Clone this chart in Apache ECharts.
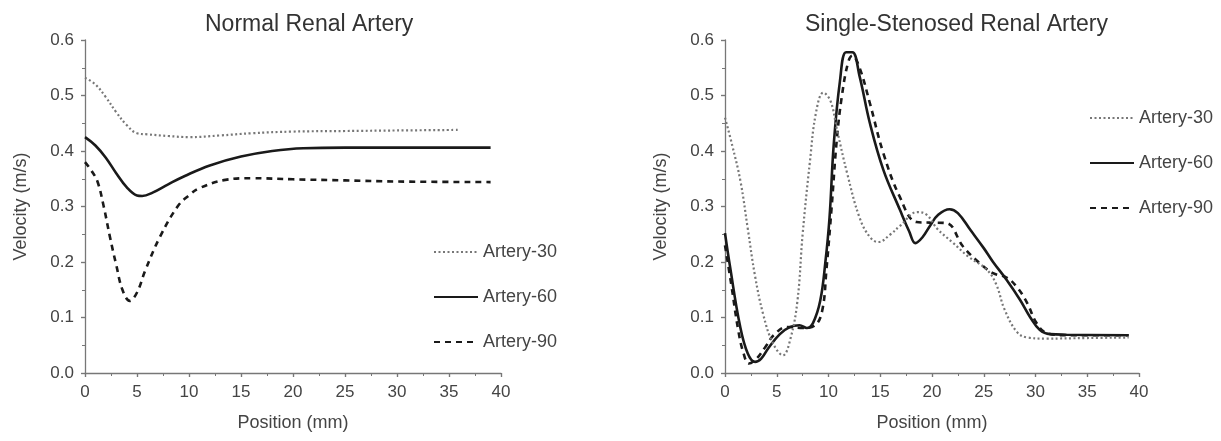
<!DOCTYPE html>
<html><head><meta charset="utf-8">
<script src="https://cdn.jsdelivr.net/npm/echarts@6/dist/echarts.min.js"></script>
<style>html,body{margin:0;padding:0;background:#fff}#c{width:1221px;height:441px}</style>
</head><body><div id="c"></div>
<script>
// ---- Data (position mm, velocity m/s) ----
const normal30 = [[0,0.532],[1,0.52],[2,0.497],[3,0.47],[4,0.447],[5,0.432],[6,0.43],[8,0.427],[10,0.425],[13,0.428],[16,0.432],[20,0.435],[25,0.436],[30,0.437],[36,0.438]];
const normal60 = [[0,0.425],[1,0.41],[2,0.388],[3,0.36],[4,0.335],[5,0.32],[5.5,0.319],[6.5,0.325],[8,0.34],[9.6,0.355],[12,0.374],[15,0.39],[18,0.4],[21,0.405],[25,0.406],[30,0.406],[39,0.406]];
const normal90 = [[0,0.38],[0.6,0.365],[1.2,0.345],[1.8,0.3],[2.4,0.245],[3,0.195],[3.6,0.15],[4.3,0.13],[5,0.145],[5.8,0.185],[7.2,0.245],[8.9,0.3],[10,0.32],[11,0.333],[13.5,0.348],[16,0.351],[20,0.349],[25,0.347],[30,0.345],[39,0.344]];
const sten30 = [[0,0.46],[0.7,0.41],[1.5,0.345],[2.2,0.26],[2.9,0.175],[3.7,0.105],[4.6,0.055],[5.6,0.032],[6.3,0.06],[7,0.13],[7.5,0.25],[8.2,0.38],[8.8,0.47],[9.5,0.505],[10.2,0.49],[10.8,0.44],[11.8,0.36],[13,0.28],[14,0.245],[14.8,0.236],[16,0.25],[16.9,0.265],[18.6,0.29],[19.5,0.285],[20.5,0.26],[22,0.235],[23.5,0.21],[25.3,0.186],[26.2,0.16],[27,0.115],[28.2,0.074],[29.2,0.064],[31,0.062],[35,0.063],[39,0.064]];
const sten60 = [[0,0.252],[0.5,0.19],[1.45,0.085],[2.2,0.035],[2.9,0.02],[3.5,0.026],[4.2,0.045],[5.3,0.07],[6.3,0.083],[7.2,0.086],[7.9,0.081],[8.5,0.09],[9.2,0.13],[9.7,0.2],[10.1,0.28],[10.5,0.41],[11.1,0.525],[11.7,0.578],[12.3,0.578],[13,0.535],[14,0.45],[15.3,0.366],[16.9,0.294],[17.8,0.255],[18.4,0.234],[19.1,0.245],[19.8,0.265],[20.6,0.285],[21.7,0.295],[22.5,0.288],[23.7,0.258],[25,0.225],[25.9,0.2],[27.2,0.168],[28.5,0.132],[29.5,0.1],[30.4,0.078],[31.4,0.07],[33,0.069],[39,0.068]];
const sten90 = [[0,0.23],[0.6,0.16],[1.3,0.075],[1.8,0.035],[2.3,0.017],[3,0.025],[3.9,0.047],[4.7,0.068],[6,0.083],[7.5,0.081],[8.7,0.086],[9.4,0.113],[9.8,0.186],[10.3,0.298],[10.8,0.42],[11.3,0.5],[11.9,0.56],[12.3,0.572],[13,0.55],[14,0.486],[15.3,0.396],[16.9,0.317],[18.5,0.272],[19.8,0.271],[21.4,0.27],[23,0.228],[24.6,0.198],[25.9,0.18],[27.2,0.172],[28.2,0.155],[29.2,0.126],[30.1,0.09],[31.1,0.072],[33,0.068],[39,0.068]];
const seriesNames = ['Artery-30','Artery-60','Artery-90'];
const titles = ['Normal Renal Artery','Single-Stenosed Renal Artery'];
const xTitle = 'Position (mm)';
const yTitle = 'Velocity (m/s)';

const txt = '#444';
const axisCol = '#777';
const font = 'Liberation Sans, Arial, sans-serif';
const styles = [
  {color:'#777', width:2.2, type:[2,2.5]},
  {color:'#1a1a1a', width:2.6, type:'solid'},
  {color:'#1a1a1a', width:2.6, type:[6,5]}
];

function xAxis(i,inner){return {type:'value',gridIndex:i,min:0,max:40,interval:5,
  name:inner?'':xTitle,nameLocation:'middle',nameGap:41,nameTextStyle:{color:txt,fontSize:18,fontFamily:font},
  axisLine:{show:!inner,lineStyle:{color:axisCol,width:1.3}},
  axisTick:{inside:!!inner,length:4,lineStyle:{color:axisCol,width:1.2}},
  minorTick:{show:!!inner,splitNumber:2,length:3,lineStyle:{color:axisCol}},
  axisLabel:{show:!inner,color:txt,fontSize:17,fontFamily:font,margin:11},splitLine:{show:false}};}
function yAxis(i,inner){return {type:'value',gridIndex:i,min:0,max:0.6,interval:0.1,
  name:inner?'':yTitle,nameLocation:'middle',nameGap:55,nameTextStyle:{color:txt,fontSize:18,fontFamily:font},
  axisLine:{show:!inner,lineStyle:{color:axisCol,width:1.3}},
  axisTick:{show:true,inside:!!inner,length:4,lineStyle:{color:axisCol,width:1.2}},
  minorTick:{show:!!inner,splitNumber:2,length:3,lineStyle:{color:axisCol}},
  axisLabel:{show:!inner,color:txt,fontSize:17,fontFamily:font,margin:11,formatter:v=>v.toFixed(1)},splitLine:{show:false}};}

const datasets = [[normal30,normal60,normal90],[sten30,sten60,sten90]];
const series = [];
datasets.forEach((ds,gi)=>ds.forEach((d,si)=>series.push({
  name:seriesNames[si],type:'line',xAxisIndex:gi,yAxisIndex:gi,data:d,smooth:0.4,
  showSymbol:false,symbol:'none',lineStyle:styles[si],itemStyle:{color:styles[si].color},z:3-si
})));

const legendBase = {orient:'vertical',itemGap:27,itemWidth:44,itemHeight:14,data:seriesNames,
  itemStyle:{opacity:0},
  textStyle:{color:txt,fontSize:18,fontFamily:font}};

const chart = echarts.init(document.getElementById('c'),null,{renderer:'canvas'});
chart.setOption({
  animation:false,
  backgroundColor:'#fff',
  title:[
    {text:titles[0],left:200,top:8,textStyle:{color:'#333',fontSize:23,fontWeight:'normal',fontFamily:font}},
    {text:titles[1],left:800,top:8,textStyle:{color:'#333',fontSize:23,fontWeight:'normal',fontFamily:font}}
  ],
  grid:[
    {left:85,right:720,top:40,bottom:68},
    {left:725,right:82,top:40,bottom:68}
  ],
  xAxis:[xAxis(0,false),xAxis(1,false),xAxis(0,true),xAxis(1,true)],
  yAxis:[yAxis(0,false),yAxis(1,false),yAxis(0,true),yAxis(1,true)],
  legend:[
    Object.assign({left:428,top:238},legendBase),
    Object.assign({left:1084,top:104},legendBase)
  ],
  series:series
});
</script></body></html>
